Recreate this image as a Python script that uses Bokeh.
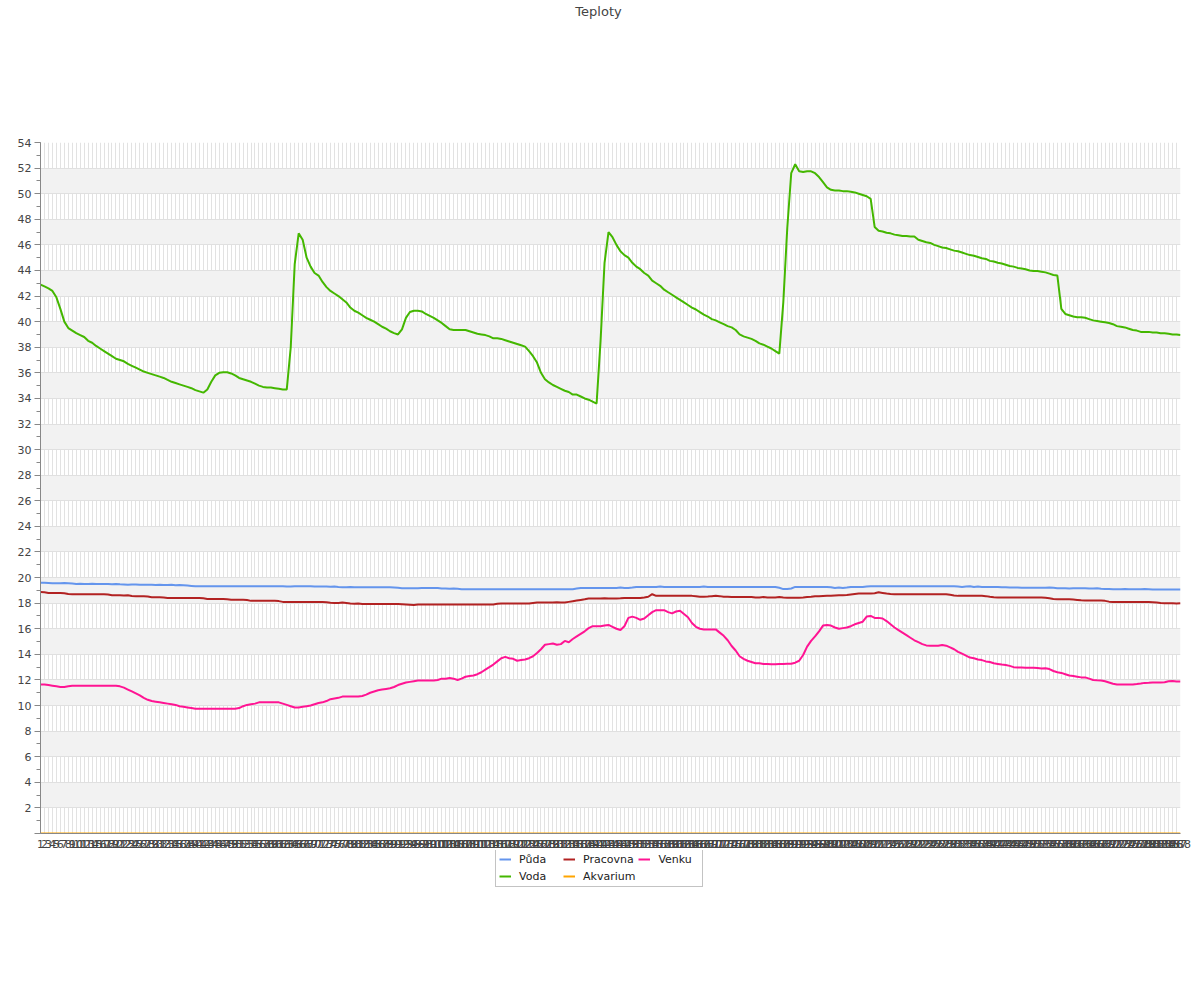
from bokeh.plotting import figure
from bokeh.layouts import column
from bokeh.models import Range1d, FixedTicker, SingleIntervalTicker, Legend, LegendItem, Label
from bokeh.embed import file_html
from bokeh.resources import INLINE

# category index (5-minute samples) used as x and as tick labels
labels = list(range(1, 289))

puda = [
    19.6, 19.6, 19.58, 19.55, 19.55, 19.55, 19.57, 19.55, 19.53, 19.5, 19.52, 19.5,
    19.5, 19.52, 19.5, 19.5, 19.5, 19.5, 19.48, 19.5, 19.47, 19.45, 19.43, 19.45,
    19.45, 19.43, 19.43, 19.43, 19.43, 19.42, 19.43, 19.42, 19.42, 19.43, 19.4, 19.42,
    19.4, 19.38, 19.35, 19.32, 19.32, 19.32, 19.32, 19.32, 19.32, 19.32, 19.32, 19.32,
    19.32, 19.32, 19.32, 19.32, 19.32, 19.32, 19.32, 19.32, 19.32, 19.32, 19.32, 19.32,
    19.32, 19.32, 19.3, 19.3, 19.32, 19.32, 19.32, 19.32, 19.32, 19.3, 19.3, 19.3,
    19.3, 19.28, 19.3, 19.27, 19.25, 19.25, 19.27, 19.25, 19.24, 19.24, 19.24, 19.24,
    19.24, 19.24, 19.24, 19.24, 19.24, 19.22, 19.2, 19.17, 19.17, 19.17, 19.17, 19.17,
    19.19, 19.19, 19.19, 19.19, 19.19, 19.15, 19.15, 19.12, 19.15, 19.12, 19.09, 19.09,
    19.09, 19.09, 19.09, 19.09, 19.09, 19.09, 19.09, 19.09, 19.09, 19.09, 19.09, 19.09,
    19.09, 19.09, 19.09, 19.09, 19.09, 19.09, 19.09, 19.09, 19.09, 19.09, 19.09, 19.09,
    19.09, 19.09, 19.09, 19.15, 19.19, 19.19, 19.19, 19.19, 19.19, 19.19, 19.19, 19.19,
    19.19, 19.19, 19.22, 19.19, 19.19, 19.22, 19.27, 19.27, 19.27, 19.27, 19.27, 19.27,
    19.3, 19.27, 19.27, 19.27, 19.27, 19.27, 19.27, 19.27, 19.27, 19.27, 19.27, 19.3,
    19.27, 19.27, 19.27, 19.27, 19.27, 19.27, 19.27, 19.27, 19.27, 19.27, 19.27, 19.27,
    19.27, 19.27, 19.27, 19.27, 19.27, 19.27, 19.2, 19.1, 19.1, 19.15, 19.27, 19.27,
    19.27, 19.27, 19.27, 19.27, 19.27, 19.27, 19.27, 19.25, 19.19, 19.22, 19.19, 19.22,
    19.27, 19.27, 19.27, 19.27, 19.3, 19.32, 19.32, 19.32, 19.32, 19.32, 19.32, 19.32,
    19.32, 19.32, 19.32, 19.32, 19.32, 19.32, 19.32, 19.32, 19.32, 19.32, 19.32, 19.32,
    19.32, 19.32, 19.32, 19.3, 19.27, 19.3, 19.33, 19.27, 19.3, 19.27, 19.27, 19.27,
    19.27, 19.27, 19.25, 19.24, 19.22, 19.22, 19.22, 19.2, 19.2, 19.2, 19.2, 19.2,
    19.2, 19.2, 19.22, 19.2, 19.17, 19.17, 19.17, 19.15, 19.17, 19.17, 19.17, 19.17,
    19.15, 19.15, 19.17, 19.12, 19.1, 19.1, 19.08, 19.08, 19.08, 19.1, 19.08, 19.08,
    19.08, 19.08, 19.1, 19.08, 19.06, 19.06, 19.06, 19.06, 19.06, 19.06, 19.06, 19.06,
]

voda = [
    42.9, 42.75, 42.6, 42.4, 41.9, 41.0, 40.0, 39.5, 39.3, 39.1, 38.95, 38.8,
    38.5, 38.35, 38.1, 37.9, 37.7, 37.5, 37.3, 37.1, 37.0, 36.9, 36.7, 36.55,
    36.4, 36.25, 36.1, 36.0, 35.9, 35.8, 35.7, 35.6, 35.45, 35.3, 35.2, 35.1,
    35.0, 34.9, 34.8, 34.65, 34.55, 34.45, 34.7, 35.3, 35.8, 36.0, 36.05, 36.05,
    35.95, 35.8, 35.6, 35.5, 35.4, 35.3, 35.15, 35.0, 34.9, 34.85, 34.85, 34.8,
    34.75, 34.7, 34.7, 38.0, 44.5, 46.9, 46.4, 45.0, 44.3, 43.8, 43.6, 43.1,
    42.7, 42.4, 42.2, 42.0, 41.75, 41.5, 41.1, 40.85, 40.7, 40.5, 40.3, 40.15,
    40.0, 39.8, 39.6, 39.45, 39.25, 39.1, 39.0, 39.4, 40.3, 40.75, 40.85, 40.85,
    40.8, 40.6, 40.45, 40.3, 40.1, 39.9, 39.65, 39.4, 39.35, 39.35, 39.35, 39.35,
    39.25, 39.15, 39.05, 39.0, 38.95, 38.85, 38.7, 38.7, 38.65, 38.55, 38.45, 38.35,
    38.25, 38.15, 38.05, 37.7, 37.3, 36.8, 36.0, 35.5, 35.25, 35.05, 34.9, 34.75,
    34.6, 34.5, 34.3, 34.3, 34.15, 34.0, 33.9, 33.75, 33.6, 38.5, 44.6, 47.0,
    46.6, 46.0, 45.5, 45.2, 45.0, 44.6, 44.3, 44.1, 43.8, 43.6, 43.2, 43.0,
    42.8, 42.5, 42.3, 42.1, 41.9, 41.7, 41.5, 41.3, 41.1, 40.95, 40.75, 40.55,
    40.4, 40.2, 40.1, 39.95, 39.8, 39.65, 39.55, 39.35, 39.0, 38.85, 38.75, 38.65,
    38.5, 38.3, 38.2, 38.05, 37.9, 37.7, 37.5, 41.5, 47.3, 51.6, 52.3, 51.75,
    51.7, 51.75, 51.75, 51.6, 51.3, 50.9, 50.5, 50.3, 50.25, 50.25, 50.2, 50.2,
    50.15, 50.1, 50.0, 49.9, 49.8, 49.6, 47.4, 47.1, 47.05, 46.95, 46.9, 46.8,
    46.75, 46.7, 46.7, 46.65, 46.65, 46.4, 46.3, 46.2, 46.15, 46.0, 45.9, 45.8,
    45.75, 45.65, 45.55, 45.5, 45.4, 45.3, 45.2, 45.15, 45.05, 44.95, 44.9, 44.75,
    44.7, 44.6, 44.55, 44.45, 44.35, 44.3, 44.2, 44.15, 44.1, 44.0, 43.95, 43.95,
    43.9, 43.85, 43.75, 43.65, 43.6, 41.0, 40.6, 40.5, 40.4, 40.35, 40.35, 40.3,
    40.2, 40.1, 40.05, 40.0, 39.95, 39.9, 39.8, 39.65, 39.6, 39.55, 39.45, 39.35,
    39.3, 39.2, 39.2, 39.2, 39.15, 39.15, 39.1, 39.1, 39.05, 39.0, 39.0, 38.95,
]

pracovna = [
    18.88, 18.85, 18.8, 18.8, 18.8, 18.8, 18.78, 18.72, 18.7, 18.7, 18.7, 18.7,
    18.7, 18.7, 18.7, 18.7, 18.7, 18.68, 18.62, 18.62, 18.62, 18.6, 18.62, 18.56,
    18.54, 18.54, 18.54, 18.52, 18.46, 18.46, 18.46, 18.44, 18.41, 18.41, 18.41, 18.41,
    18.41, 18.41, 18.41, 18.41, 18.41, 18.38, 18.33, 18.33, 18.33, 18.33, 18.33, 18.3,
    18.26, 18.26, 18.26, 18.26, 18.24, 18.18, 18.18, 18.18, 18.18, 18.18, 18.18, 18.18,
    18.16, 18.1, 18.1, 18.1, 18.1, 18.1, 18.1, 18.1, 18.1, 18.1, 18.1, 18.1,
    18.08, 18.04, 18.02, 18.02, 18.05, 18.02, 17.98, 17.96, 17.98, 17.94, 17.94, 17.94,
    17.94, 17.94, 17.94, 17.94, 17.94, 17.94, 17.94, 17.92, 17.9, 17.88, 17.86, 17.9,
    17.9, 17.9, 17.9, 17.9, 17.9, 17.9, 17.9, 17.9, 17.9, 17.9, 17.9, 17.9,
    17.9, 17.9, 17.9, 17.9, 17.9, 17.9, 17.9, 17.95, 17.97, 17.97, 17.97, 17.97,
    17.97, 17.97, 17.97, 17.97, 18.02, 18.05, 18.05, 18.05, 18.05, 18.05, 18.08, 18.05,
    18.05, 18.1, 18.15, 18.2, 18.25, 18.3, 18.36, 18.36, 18.36, 18.36, 18.38, 18.36,
    18.36, 18.36, 18.38, 18.41, 18.41, 18.41, 18.41, 18.41, 18.45, 18.5, 18.7, 18.57,
    18.57, 18.57, 18.57, 18.57, 18.57, 18.57, 18.57, 18.57, 18.57, 18.54, 18.5, 18.5,
    18.52, 18.55, 18.57, 18.55, 18.5, 18.5, 18.48, 18.48, 18.48, 18.48, 18.48, 18.48,
    18.45, 18.45, 18.48, 18.45, 18.45, 18.45, 18.48, 18.45, 18.43, 18.43, 18.43, 18.43,
    18.45, 18.48, 18.5, 18.54, 18.54, 18.56, 18.58, 18.58, 18.6, 18.62, 18.62, 18.64,
    18.68, 18.72, 18.75, 18.75, 18.75, 18.75, 18.78, 18.85, 18.8, 18.75, 18.72, 18.7,
    18.7, 18.7, 18.7, 18.7, 18.7, 18.7, 18.7, 18.7, 18.7, 18.7, 18.7, 18.7,
    18.7, 18.65, 18.6, 18.57, 18.57, 18.57, 18.57, 18.57, 18.57, 18.57, 18.55, 18.5,
    18.46, 18.44, 18.44, 18.44, 18.44, 18.44, 18.44, 18.44, 18.44, 18.44, 18.44, 18.44,
    18.44, 18.42, 18.38, 18.32, 18.3, 18.3, 18.3, 18.3, 18.28, 18.25, 18.22, 18.2,
    18.2, 18.2, 18.2, 18.2, 18.18, 18.12, 18.1, 18.1, 18.1, 18.1, 18.1, 18.1,
    18.1, 18.1, 18.1, 18.1, 18.08, 18.05, 18.02, 18.0, 18.0, 18.0, 17.97, 18.0,
]

akvarium = [0.0] * 288

venku = [
    11.65, 11.65, 11.6, 11.55, 11.5, 11.45, 11.45, 11.5, 11.55, 11.55, 11.55, 11.55,
    11.55, 11.55, 11.55, 11.55, 11.55, 11.55, 11.55, 11.55, 11.5, 11.4, 11.25, 11.1,
    10.95, 10.8, 10.6, 10.45, 10.35, 10.3, 10.25, 10.2, 10.15, 10.1, 10.05, 9.95,
    9.9, 9.85, 9.8, 9.75, 9.75, 9.75, 9.75, 9.75, 9.75, 9.75, 9.75, 9.75,
    9.75, 9.75, 9.8, 9.95, 10.05, 10.1, 10.15, 10.25, 10.25, 10.25, 10.25, 10.25,
    10.25, 10.15, 10.05, 9.95, 9.85, 9.85, 9.9, 9.95, 10.0, 10.1, 10.2, 10.25,
    10.35, 10.5, 10.55, 10.6, 10.7, 10.7, 10.7, 10.7, 10.7, 10.75, 10.85, 11.0,
    11.1, 11.2, 11.25, 11.3, 11.35, 11.45, 11.6, 11.7, 11.8, 11.85, 11.9, 11.95,
    11.95, 11.95, 11.95, 11.95, 12.0, 12.1, 12.1, 12.15, 12.1, 12.0, 12.1, 12.25,
    12.3, 12.35, 12.45, 12.6, 12.8, 13.0, 13.2, 13.45, 13.7, 13.8, 13.7, 13.65,
    13.5, 13.55, 13.6, 13.7, 13.85, 14.1, 14.4, 14.75, 14.8, 14.85, 14.75, 14.8,
    15.05, 14.95, 15.2, 15.4, 15.6, 15.8, 16.05, 16.2, 16.2, 16.2, 16.25, 16.3,
    16.15, 16.0, 15.9, 16.2, 16.85, 16.95, 16.85, 16.7, 16.8, 17.05, 17.3, 17.45,
    17.45, 17.45, 17.3, 17.2, 17.35, 17.4, 17.15, 16.9, 16.45, 16.15, 16.0, 15.95,
    15.95, 15.95, 15.95, 15.7, 15.45, 15.1, 14.65, 14.3, 13.85, 13.65, 13.5, 13.4,
    13.3, 13.3, 13.25, 13.25, 13.22, 13.22, 13.25, 13.25, 13.27, 13.27, 13.35, 13.5,
    13.95, 14.6, 15.05, 15.4, 15.8, 16.25, 16.3, 16.25, 16.1, 16.0, 16.05, 16.1,
    16.2, 16.35, 16.45, 16.55, 16.95, 17.0, 16.85, 16.85, 16.8, 16.6, 16.35, 16.1,
    15.9, 15.7, 15.5, 15.3, 15.1, 14.95, 14.8, 14.7, 14.68, 14.68, 14.68, 14.73,
    14.68, 14.55, 14.4, 14.2, 14.05, 13.9, 13.75, 13.7, 13.6, 13.55, 13.45, 13.4,
    13.3, 13.25, 13.2, 13.17, 13.1, 13.0, 12.98, 12.97, 12.96, 12.96, 12.95, 12.93,
    12.9, 12.92, 12.85, 12.7, 12.6, 12.55, 12.45, 12.35, 12.3, 12.25, 12.2, 12.2,
    12.1, 12.0, 11.97, 11.95, 11.9, 11.8, 11.7, 11.65, 11.65, 11.65, 11.65, 11.65,
    11.68, 11.72, 11.77, 11.78, 11.8, 11.8, 11.8, 11.82, 11.9, 11.92, 11.88, 11.87,
]

series_names = ["Půda", "Voda", "Pracovna", "Akvarium", "Venku"]
series_colors = ["#6495ED", "#44B700", "#B22222", "#FFA500", "#FF1493"]
series_values = [puda, voda, pracovna, akvarium, venku]
title_text = "Teploty"

FONT = "DejaVu Sans"
W = 1192
FRAME_L, FRAME_R = 40, 1180   # frames of the stacked figures are aligned to these


def bare(height):
    f = figure(width=W, height=height, output_backend="svg", toolbar_location=None,
               min_border=0, x_axis_location=None, y_axis_location=None)
    f.outline_line_color = None
    f.xgrid.visible = False
    f.ygrid.visible = False
    f.background_fill_color = "white"
    f.border_fill_color = "white"
    return f


# ---- title strip ----
TH = 132
tf = bare(TH)
tf.x_range = Range1d(FRAME_L, FRAME_R)
tf.y_range = Range1d(0, TH)
tf.add_layout(Label(x=598, y=TH - 11, text=title_text,
                    text_align="center", text_baseline="middle",
                    text_font=FONT, text_font_size="13px", text_color="#444444"))

# ---- main chart ----
p = figure(
    width=W, height=718,
    output_backend="svg", toolbar_location=None,
    x_range=Range1d(1, 288), y_range=Range1d(0, 54),
    min_border_left=FRAME_L, min_border_right=W - FRAME_R,
    min_border_top=10, min_border_bottom=16,
    background_fill_color="white", border_fill_color="white",
)
p.outline_line_color = None

xa = p.xaxis[0]
xa.ticker = FixedTicker(ticks=labels, minor_ticks=[])
xa.major_tick_out = 0
xa.major_tick_in = 0
xa.minor_tick_out = 0
xa.minor_tick_in = 0
xa.axis_line_color = "#888888"
xa.major_label_text_font = FONT
xa.major_label_text_font_size = "11px"
xa.major_label_text_color = "#444444"
xa.major_label_standoff = 6

ya = p.yaxis[0]
ya.ticker = SingleIntervalTicker(interval=2, num_minor_ticks=2)
ya.major_label_overrides = {0: ""}
ya.major_tick_out = 6
ya.major_tick_in = 0
ya.minor_tick_out = 4
ya.minor_tick_in = 0
ya.axis_line_color = "#888888"
ya.major_tick_line_color = "#888888"
ya.minor_tick_line_color = "#888888"
ya.major_label_text_font = FONT
ya.major_label_text_font_size = "11px"
ya.major_label_text_color = "#444444"
ya.major_label_standoff = 3

p.xgrid.ticker = FixedTicker(ticks=labels, minor_ticks=[])
p.xgrid.grid_line_color = "#e2e2e2"
p.ygrid.ticker = SingleIntervalTicker(interval=2)
p.ygrid.grid_line_color = "#e0e0e0"
p.ygrid.band_fill_color = "#f2f2f2"
p.ygrid.band_fill_alpha = 1.0

for name, color, vals in zip(series_names, series_colors, series_values):
    p.line(labels, vals, line_color=color, line_width=2)

# ---- legend strip (same series, drawn out of view; only the legend shows) ----
LH = 100
lf = bare(LH)
lf.x_range = Range1d(-20, -10)
lf.y_range = Range1d(0, 54)
legend_renderers = {}
for name, color, vals in zip(series_names, series_colors, series_values):
    legend_renderers[name] = lf.line(labels, vals, line_color=color, line_width=2)

order = ["Půda", "Pracovna", "Venku", "Voda", "Akvarium"]
LEG_H = 37
legend = Legend(
    items=[LegendItem(label=n, renderers=[legend_renderers[n]]) for n in order],
    orientation="horizontal", ncols=3,
    location=(495 - FRAME_L, LH - LEG_H), margin=0, padding=3, spacing=3,
    glyph_width=12, glyph_height=14, label_height=14, label_standoff=8,
    label_width=41,
    label_text_font=FONT, label_text_font_size="11px", label_text_color="#222222",
    border_line_color="#888888", border_line_width=1,
    background_fill_color="white", background_fill_alpha=1.0,
)
lf.add_layout(legend, "center")

layout = column(tf, p, lf, spacing=0)
open("out.html", "w").write(file_html(layout, INLINE))
